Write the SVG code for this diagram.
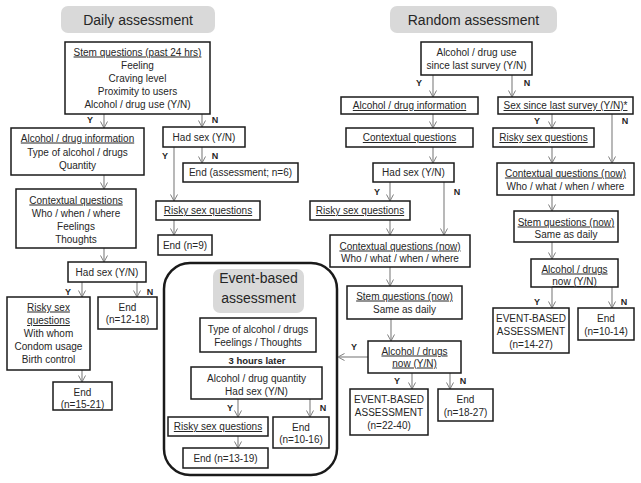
<svg xmlns="http://www.w3.org/2000/svg" width="641" height="483" viewBox="0 0 641 483">
<defs>
<marker id="ah" markerUnits="userSpaceOnUse" markerWidth="8" markerHeight="8" viewBox="0 0 8 8" refX="7.5" refY="4" orient="auto">
<path d="M1,0.5 L7.5,4 L1,7.5" fill="none" stroke="#7f7f7f" stroke-width="1"/>
</marker>
<style>
.b{fill:#fff;stroke:#1a1a1a;stroke-width:1.5}
.p{fill:#d9d9d9;stroke:none}
text{font-family:"Liberation Sans",Arial,sans-serif;font-size:10px;fill:#262626;text-anchor:middle}
.u{text-decoration:underline}
.t{font-size:14px}
.yn{font-size:9px;font-weight:bold}
.bd{font-size:9.5px;font-weight:bold}
.c line,.c path{stroke:#7f7f7f;stroke-width:1.1;fill:none}
.a{marker-end:url(#ah)}
</style>
</defs>
<rect width="641" height="483" fill="#fff"/>

<g id="title-daily"><rect class="p" x="61" y="6" width="154" height="27" rx="7"/><text class="t" x="138" y="24.5">Daily assessment</text></g>
<g id="title-random"><rect class="p" x="390" y="6" width="167" height="27" rx="7"/><text class="t" x="473.5" y="24.5">Random assessment</text></g>

<g id="event-frame"><rect x="164" y="263" width="173" height="212" rx="26" fill="none" stroke="#1a1a1a" stroke-width="2.5"/></g>
<g id="title-event"><rect class="p" x="213" y="269" width="91" height="44" rx="7"/><text class="t" x="258.5" y="283">Event-based</text><text class="t" x="258.5" y="303">assessment</text></g>

<g class="c" id="connectors">
<line class="a" x1="104" y1="114" x2="104" y2="128"/>
<line class="a" x1="202" y1="114" x2="202" y2="127"/>
<line class="a" x1="174" y1="147" x2="174" y2="201"/>
<line class="a" x1="202" y1="147" x2="202" y2="163"/>
<line class="a" x1="174" y1="220" x2="174" y2="235"/>
<line class="a" x1="104" y1="175" x2="104" y2="189"/>
<line class="a" x1="104" y1="248" x2="104" y2="262"/>
<line class="a" x1="82" y1="282" x2="82" y2="297"/>
<line class="a" x1="137" y1="282" x2="137" y2="297"/>
<line class="a" x1="82" y1="370" x2="82" y2="382"/>
<line class="a" x1="238" y1="399" x2="238" y2="417"/>
<line class="a" x1="310" y1="399" x2="310" y2="417"/>
<line class="a" x1="238" y1="436" x2="238" y2="448"/>
<line class="a" x1="433" y1="75" x2="433" y2="97"/>
<line class="a" x1="512" y1="75" x2="512" y2="97"/>
<line class="a" x1="433" y1="114" x2="433" y2="128"/>
<line class="a" x1="552" y1="114" x2="552" y2="128"/>
<line class="a" x1="612" y1="114" x2="612" y2="163"/>
<line class="a" x1="552" y1="147" x2="552" y2="163"/>
<line class="a" x1="433" y1="147" x2="433" y2="163"/>
<line class="a" x1="390" y1="182" x2="390" y2="201"/>
<line class="a" x1="444" y1="182" x2="444" y2="235"/>
<line class="a" x1="390" y1="220" x2="390" y2="235"/>
<line class="a" x1="390" y1="267" x2="390" y2="286"/>
<line class="a" x1="391" y1="319" x2="391" y2="341"/>
<line class="a" x1="368" y1="357" x2="338" y2="357"/>
<line class="a" x1="412" y1="373" x2="412" y2="389"/>
<line class="a" x1="450" y1="373" x2="450" y2="389"/>
<line class="a" x1="552" y1="195" x2="552" y2="211"/>
<line class="a" x1="552" y1="242" x2="552" y2="259"/>
<line class="a" x1="552" y1="287" x2="552" y2="308"/>
<line class="a" x1="612" y1="287" x2="612" y2="308"/>
</g>

<g id="yn-labels">
<text class="yn" x="90" y="123">Y</text><text class="yn" x="215" y="123">N</text>
<text class="yn" x="165" y="159">Y</text><text class="yn" x="215" y="159">N</text>
<text class="yn" x="68" y="295">Y</text><text class="yn" x="150" y="295">N</text>
<text class="yn" x="230" y="411">Y</text><text class="yn" x="323" y="411">N</text>
<text class="yn" x="419" y="86">Y</text><text class="yn" x="527" y="86">N</text>
<text class="yn" x="537" y="124">Y</text><text class="yn" x="625" y="124">N</text>
<text class="yn" x="377" y="195">Y</text><text class="yn" x="457" y="195">N</text>
<text class="yn" x="354" y="350">Y</text>
<text class="yn" x="397" y="384">Y</text><text class="yn" x="463" y="384">N</text>
<text class="yn" x="537" y="305">Y</text><text class="yn" x="624" y="305">N</text>
</g>

<g id="d-stem"><rect class="b" x="65" y="42" width="145" height="72"/>
<text class="u" x="137.5" y="55.5">Stem questions (past 24 hrs)</text>
<text x="137.5" y="68.5">Feeling</text><text x="137.5" y="81.5">Craving level</text>
<text x="137.5" y="94.5">Proximity to users</text><text x="137.5" y="107.5">Alcohol / drug use (Y/N)</text></g>
<g id="d-alcinfo"><rect class="b" x="11" y="128" width="133" height="47"/>
<text class="u" x="77.5" y="141.5">Alcohol / drug information</text>
<text x="77.5" y="155.5">Type of alcohol / drugs</text><text x="77.5" y="168.5">Quantity</text></g>
<g id="d-hadsex-n"><rect class="b" x="163" y="127" width="82" height="20"/><text x="204" y="140.5">Had sex (Y/N)</text></g>
<g id="d-end-assess"><rect class="b" x="183" y="163" width="115" height="19"/><text x="240.5" y="176">End (assessment; n=6)</text></g>
<g id="d-risky-n"><rect class="b" x="156" y="201" width="104" height="19"/><text class="u" x="208" y="214">Risky sex questions</text></g>
<g id="d-end-9"><rect class="b" x="158" y="235" width="54" height="20"/><text x="185" y="248.5">End (n=9)</text></g>
<g id="d-context"><rect class="b" x="16" y="189" width="120" height="59"/>
<text class="u" x="76" y="203.5">Contextual questions</text><text x="76" y="216.5">Who / when / where</text>
<text x="76" y="229.5">Feelings</text><text x="76" y="242.5">Thoughts</text></g>
<g id="d-hadsex-y"><rect class="b" x="68" y="262" width="78" height="20"/><text x="107" y="275.5">Had sex (Y/N)</text></g>
<g id="d-risky-y"><rect class="b" x="7" y="297" width="83" height="73"/>
<text class="u" x="48.5" y="310.5">Risky sex</text><text class="u" x="48.5" y="324">questions</text>
<text x="48.5" y="336.5">With whom</text><text x="48.5" y="350">Condom usage</text><text x="48.5" y="362.5">Birth control</text></g>
<g id="d-end-12"><rect class="b" x="98" y="297" width="59" height="32"/><text x="127.5" y="310.5">End</text><text x="127.5" y="322.5">(n=12-18)</text></g>
<g id="d-end-15"><rect class="b" x="53" y="382" width="59" height="28"/><text x="82.5" y="395.5">End</text><text x="82.5" y="407.5">(n=15-21)</text></g>

<g id="e-type"><rect class="b" x="200" y="318" width="116" height="34"/><text x="258" y="332.5">Type of alcohol / drugs</text><text x="258" y="345.5">Feelings / Thoughts</text></g>
<g id="e-later"><text class="bd" x="257" y="363.5">3 hours later</text></g>
<g id="e-qty"><rect class="b" x="191" y="367" width="131" height="32"/><text x="256.5" y="381.5">Alcohol / drug quantity</text><text x="256.5" y="394.5">Had sex (Y/N)</text></g>
<g id="e-risky"><rect class="b" x="168" y="417" width="100" height="19"/><text class="u" x="218" y="430">Risky sex questions</text></g>
<g id="e-end-10"><rect class="b" x="273" y="417" width="56" height="31"/><text x="301" y="430.5">End</text><text x="301" y="442.5">(n=10-16)</text></g>
<g id="e-end-13"><rect class="b" x="183" y="448" width="85" height="20"/><text x="225.5" y="461.5">End (n=13-19)</text></g>

<g id="r-alcuse"><rect class="b" x="421" y="42" width="111" height="33"/><text x="476.5" y="55.5">Alcohol / drug use</text><text x="476.5" y="68.5">since last survey (Y/N)</text></g>
<g id="r-alcinfo"><rect class="b" x="341" y="97" width="137" height="17"/><text class="u" x="409.5" y="109">Alcohol / drug information</text></g>
<g id="r-sexsince"><rect class="b" x="498" y="97" width="135" height="17"/><text class="u" x="565.5" y="109">Sex since last survey (Y/N)*</text></g>
<g id="r-context"><rect class="b" x="346" y="128" width="127" height="19"/><text class="u" x="409.5" y="141">Contextual questions</text></g>
<g id="r-risky-r"><rect class="b" x="493" y="128" width="101" height="19"/><text class="u" x="543.5" y="141">Risky sex questions</text></g>
<g id="r-hadsex"><rect class="b" x="373" y="163" width="81" height="19"/><text x="413.5" y="176">Had sex (Y/N)</text></g>
<g id="r-risky-m"><rect class="b" x="310" y="201" width="100" height="19"/><text class="u" x="360" y="214">Risky sex questions</text></g>
<g id="r-context-now-m"><rect class="b" x="330" y="235" width="140" height="32"/><text class="u" x="400" y="249.5">Contextual questions (now)</text><text x="400" y="261.5">Who / what / when / where</text></g>
<g id="r-stem-now-m"><rect class="b" x="347" y="286" width="115" height="33"/><text class="u" x="404.5" y="299.5">Stem questions (now)</text><text x="404.5" y="312.5">Same as daily</text></g>
<g id="r-alcnow-m"><rect class="b" x="368" y="341" width="93" height="32"/><text class="u" x="414.5" y="354.5">Alcohol / drugs</text><text class="u" x="414.5" y="366.5">now (Y/N)</text></g>
<g id="r-event-m"><rect class="b" x="350" y="389" width="78" height="46"/><text x="389" y="402.5">EVENT-BASED</text><text x="389" y="415.5">ASSESSMENT</text><text x="389" y="428.5">(n=22-40)</text></g>
<g id="r-end-18"><rect class="b" x="438" y="389" width="55" height="32"/><text x="465.5" y="402.5">End</text><text x="465.5" y="415.5">(n=18-27)</text></g>
<g id="r-context-now-r"><rect class="b" x="497" y="163" width="137" height="32"/><text class="u" x="565.5" y="176.5">Contextual questions (now)</text><text x="565.5" y="189.5">Who / what / when / where</text></g>
<g id="r-stem-now-r"><rect class="b" x="514" y="211" width="104" height="31"/><text class="u" x="566" y="225.5">Stem questions (now)</text><text x="566" y="237.5">Same as daily</text></g>
<g id="r-alcnow-r"><rect class="b" x="531" y="259" width="87" height="28"/><text class="u" x="574.5" y="272.5">Alcohol / drugs</text><text class="u" x="574.5" y="285">now (Y/N)</text></g>
<g id="r-event-r"><rect class="b" x="493" y="308" width="76" height="45"/><text x="531" y="322">EVENT-BASED</text><text x="531" y="335">ASSESSMENT</text><text x="531" y="348">(n=14-27)</text></g>
<g id="r-end-10"><rect class="b" x="578" y="308" width="56" height="32"/><text x="606" y="321.5">End</text><text x="606" y="334.5">(n=10-14)</text></g>
</svg>
